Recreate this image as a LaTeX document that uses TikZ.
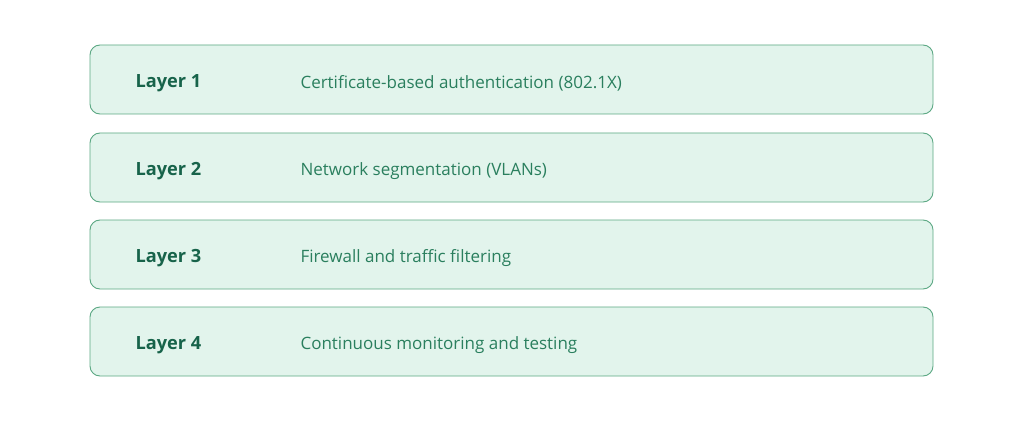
\documentclass[tikz,border=0pt]{standalone}
\usepackage{fontspec}
\setmainfont{Open Sans}
\definecolor{boxfill}{HTML}{E2F4EC}
\definecolor{boxdraw}{HTML}{5BA883}
\definecolor{lbl}{HTML}{17634A}
\definecolor{desc}{HTML}{2A7F5E}
\begin{document}
\begin{tikzpicture}[x=1pt,y=-1pt,
  layer/.style={draw=boxdraw,fill=boxfill,line width=0.9pt,rounded corners=10pt},
  lab/.style={anchor=west,text=lbl,font=\fontsize{18.2}{21}\selectfont\bfseries},
  dsc/.style={anchor=west,text=desc,font=\fontsize{17}{20}\selectfont}]
\useasboundingbox (0,0) rectangle (1024,422);
\fill[white] (0,0) rectangle (1024,422);
\foreach \i/\t/\d in {1/45/Certificate-based authentication (802.1X),2/133/Network segmentation (VLANs),3/220/Firewall and traffic filtering,4/307/Continuous monitoring and testing}{
  \draw[layer] (90,\t) rectangle (933,\t+69) node[pos=0,coordinate] (b\i) {};
  \node[lab] (l\i) at (132,\t+38) {Layer \i};
  \node[dsc] (d\i) at (297,\t+38) {\d};
}
\end{tikzpicture}
\end{document}
